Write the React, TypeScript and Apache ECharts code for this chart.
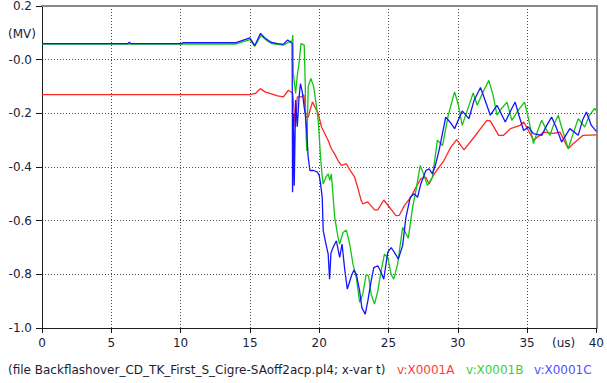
import React, { useEffect, useRef } from "react";
import * as echarts from "echarts";

// Time (us) / voltage (MV) samples for the three phase voltages
const phaseA: [number, number][] = [
  [0, -0.13], [15, -0.13], [15.4, -0.126], [15.75, -0.108], [16.1, -0.12], [17.0, -0.135],
  [17.42, -0.139], [17.78, -0.114], [18.09, -0.125], [18.2, -0.2], [18.28, -0.251], [18.35, -0.2],
  [18.42, -0.139], [18.73, -0.139], [18.9, -0.132], [19.04, -0.214], [19.21, -0.214], [19.33, -0.19],
  [19.52, -0.158], [19.69, -0.176], [19.93, -0.2], [20.17, -0.251], [20.41, -0.276], [20.65, -0.301],
  [20.88, -0.332], [21.1, -0.35], [21.35, -0.375], [21.6, -0.394], [21.96, -0.388], [22.2, -0.41],
  [22.56, -0.438], [22.8, -0.48], [23.03, -0.525], [23.15, -0.538], [23.5, -0.53], [24.0, -0.56],
  [24.23, -0.56], [24.66, -0.523], [25.07, -0.55], [25.54, -0.581], [25.78, -0.58], [26.14, -0.545],
  [26.6, -0.513], [26.86, -0.488], [27.33, -0.444], [27.7, -0.438], [27.93, -0.463], [28.3, -0.426],
  [29.0, -0.376], [29.5, -0.326], [29.92, -0.298], [30.45, -0.336], [31.16, -0.29], [31.6, -0.26],
  [32.1, -0.226], [32.35, -0.228], [32.95, -0.282], [33.3, -0.282], [33.8, -0.257], [34.5, -0.245],
  [34.75, -0.232], [35.1, -0.264], [35.46, -0.3], [36.2, -0.27], [36.9, -0.275], [37.37, -0.27],
  [37.97, -0.332], [38.33, -0.313], [39.04, -0.282], [40, -0.28],
];

const phaseB: [number, number][] = [
  [0, 0.058], [13.95, 0.058], [15.0, 0.075], [15.35, 0.05], [15.8, 0.09], [16.2, 0.072], [16.6, 0.06],
  [17.4, 0.054], [17.8, 0.065], [18.05, 0.07], [18.1, 0.092], [18.13, -0.05], [18.3, -0.126],
  [18.42, -0.06], [18.55, -0.01], [18.69, 0.06], [18.92, 0.054], [19.0, -0.1], [19.02, -0.226],
  [19.1, -0.34], [19.21, -0.1], [19.4, -0.07], [19.6, -0.1], [19.81, -0.176], [19.93, -0.226],
  [20.1, -0.363], [20.2, -0.426], [20.29, -0.463], [20.48, -0.438], [20.65, -0.426], [20.77, -0.45],
  [20.88, -0.426], [21.12, -0.588], [21.36, -0.662], [21.48, -0.687], [21.72, -0.644], [21.96, -0.635],
  [22.2, -0.687], [22.44, -0.762], [22.68, -0.812], [22.92, -0.905], [23.15, -0.873], [23.39, -0.8],
  [23.56, -0.806], [23.75, -0.874], [23.99, -0.911], [24.23, -0.862], [24.47, -0.787], [24.71, -0.725],
  [24.95, -0.737], [25.19, -0.8], [25.38, -0.818], [25.66, -0.762], [26.02, -0.625], [26.43, -0.665],
  [26.74, -0.55], [26.98, -0.488], [27.29, -0.394], [27.57, -0.432], [27.81, -0.469], [28.17, -0.438],
  [28.53, -0.3], [28.9, -0.32], [29.3, -0.21], [29.77, -0.12], [30.05, -0.17], [30.32, -0.245],
  [30.68, -0.19], [31.11, -0.124], [31.4, -0.17], [31.83, -0.12], [32.24, -0.077], [32.55, -0.133],
  [32.83, -0.207], [33.19, -0.18], [33.55, -0.158], [33.9, -0.226], [34.34, -0.19], [34.82, -0.158],
  [35.13, -0.226], [35.46, -0.313], [35.77, -0.264], [36.06, -0.226], [36.34, -0.256], [36.65, -0.282],
  [36.9, -0.245], [37.25, -0.207], [37.56, -0.264], [37.97, -0.332], [38.28, -0.282], [38.69, -0.22],
  [39.16, -0.251], [39.5, -0.207], [39.88, -0.182], [40, -0.19],
];

const phaseC: [number, number][] = [
  [0, 0.06], [6.2, 0.06], [6.3, 0.065], [6.4, 0.06], [10.1, 0.06], [10.15, 0.063], [13.95, 0.063],
  [15.0, 0.081], [15.35, 0.052], [15.77, 0.098], [16.1, 0.08], [16.56, 0.064], [17.0, 0.06],
  [17.4, 0.057], [17.73, 0.073], [17.97, 0.064], [18.05, 0.06], [18.08, -0.494], [18.14, -0.2],
  [18.2, -0.47], [18.3, -0.15], [18.42, -0.25], [18.55, -0.14], [18.65, -0.089], [18.78, -0.12],
  [18.9, -0.17], [19.0, -0.205], [19.1, -0.26], [19.2, -0.36], [19.33, -0.413], [19.6, -0.413],
  [19.85, -0.418], [20.0, -0.43], [20.09, -0.458], [20.22, -0.513], [20.29, -0.637], [20.5, -0.69],
  [20.65, -0.725], [20.75, -0.818], [20.85, -0.72], [21.0, -0.7], [21.24, -0.675], [21.48, -0.737],
  [21.65, -0.687], [21.84, -0.781], [22.03, -0.855], [22.32, -0.806], [22.51, -0.784], [22.68, -0.8],
  [22.92, -0.862], [23.08, -0.924], [23.32, -0.949], [23.51, -0.899], [23.75, -0.824], [23.94, -0.775],
  [24.23, -0.768], [24.47, -0.793], [24.66, -0.818], [24.95, -0.718], [25.19, -0.7], [25.43, -0.718],
  [25.71, -0.743], [26.02, -0.693], [26.26, -0.588], [26.57, -0.513], [26.86, -0.5], [27.1, -0.513],
  [27.33, -0.463], [27.7, -0.413], [27.93, -0.407], [28.17, -0.426], [28.4, -0.39], [28.65, -0.338],
  [29.13, -0.214], [29.46, -0.234], [29.77, -0.257], [30.32, -0.191], [30.8, -0.22], [31.18, -0.151],
  [31.64, -0.104], [31.97, -0.151], [32.35, -0.207], [32.83, -0.17], [33.43, -0.232], [33.76, -0.196],
  [34.14, -0.158], [34.41, -0.207], [34.75, -0.264], [35.1, -0.251], [35.46, -0.276], [36.06, -0.282],
  [36.42, -0.245], [36.77, -0.214], [37.13, -0.256], [37.49, -0.307], [38.09, -0.257], [38.69, -0.282],
  [39.0, -0.226], [39.28, -0.195], [39.64, -0.245], [40, -0.267],
];

const seriesNames = ["v:X0001A", "v:X0001B", "v:X0001C"];
const fileCaption = "(file Backflashover_CD_TK_First_S_Cigre-SAoff2acp.pl4; x-var t)";
const yUnit = "(MV)";
const xUnit = "(us)";

const FONT = "DejaVu Sans";
const TEXT = "#1c1c38";
const COLORS = ["#ff2626", "#14c414", "#1414ff"];
const LEGEND_COLORS = ["#ff3c3c", "#3cd03c", "#5050ff"];

export default function App() {
  const ref = useRef<HTMLDivElement>(null);

  useEffect(() => {
    if (!ref.current) return;
    const chart = echarts.init(ref.current, null, { renderer: "svg" });
    const grid = { left: 42, right: 7, top: 6, bottom: 55 };
    const dotted = { show: true, lineStyle: { type: [1, 2] as any, color: "#4a4a4a", width: 1 } };

    chart.setOption({
      animation: false,
      backgroundColor: "#ffffff",
      grid: { ...grid, containLabel: false },
      xAxis: [
        {
          type: "value",
          min: 0,
          max: 40,
          interval: 5,
          position: "bottom",
          axisLine: { show: true, onZero: false, lineStyle: { color: "#1a1a1a", width: 1 } },
          axisTick: { show: true, length: 5, lineStyle: { color: "#1a1a1a" } },
          axisLabel: { margin: 9, color: TEXT, fontSize: 12, fontFamily: FONT },
          splitLine: dotted,
        },
        {
          type: "value",
          min: 0,
          max: 40,
          position: "top",
          axisLine: { show: true, onZero: false, lineStyle: { color: "#8a8a8a", width: 2 } },
          axisTick: { show: false },
          axisLabel: { show: false },
          splitLine: { show: false },
        },
      ],
      yAxis: [
        {
          type: "value",
          min: -1,
          max: 0.2,
          interval: 0.2,
          position: "left",
          axisLine: { show: true, onZero: false, lineStyle: { color: "#1a1a1a", width: 1 } },
          axisTick: { show: true, length: 6, lineStyle: { color: "#1a1a1a" } },
          axisLabel: {
            margin: 10,
            color: TEXT,
            fontSize: 12,
            fontFamily: FONT,
            formatter: (v: number) => (Math.abs(v) < 1e-9 ? "-0.0" : v.toFixed(1)),
          },
          splitLine: dotted,
        },
        {
          type: "value",
          min: -1,
          max: 0.2,
          position: "right",
          axisLine: { show: true, onZero: false, lineStyle: { color: "#8a8a8a", width: 2 } },
          axisTick: { show: false },
          axisLabel: { show: false },
          splitLine: { show: false },
        },
      ],
      series: [phaseA, phaseB, phaseC].map((data, i) => ({
        name: seriesNames[i],
        type: "line",
        xAxisIndex: 0,
        yAxisIndex: 0,
        data,
        showSymbol: false,
        symbol: "none",
        lineStyle: { color: COLORS[i], width: 1.3 },
        z: 3 + i,
      })),
      graphic: [
        {
          type: "text",
          left: 8,
          top: 28,
          style: { text: yUnit, fill: TEXT, font: `12px '${FONT}'` },
        },
        {
          type: "text",
          left: 552,
          top: 337,
          style: { text: xUnit, fill: TEXT, font: `12px '${FONT}'` },
        },
        {
          type: "text",
          left: 8,
          top: 364,
          style: { text: fileCaption, fill: TEXT, font: `12px '${FONT}'` },
        },
        ...seriesNames.map((name, i) => ({
          type: "text",
          left: [397, 466, 534][i],
          top: 364,
          style: { text: name, fill: LEGEND_COLORS[i], font: `12px '${FONT}'` },
        })),
      ],
    });

    return () => chart.dispose();
  }, []);

  return <div ref={ref} style={{ width: 607, height: 383, position: "absolute", left: 0, top: 0 }} />;
}
